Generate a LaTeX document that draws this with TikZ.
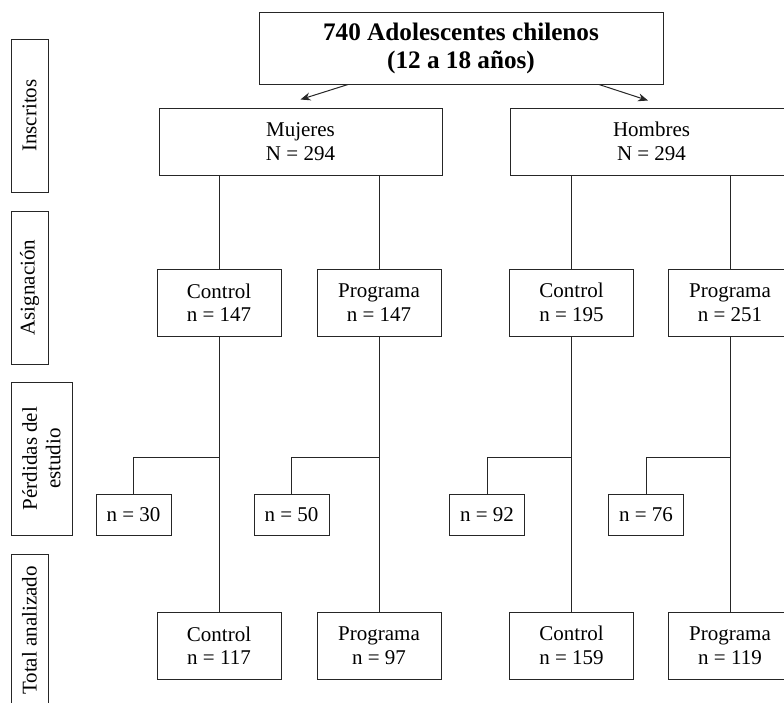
\documentclass[tikz,border=0pt]{standalone}
\usepackage{fontspec}
\setmainfont{Liberation Serif}
\usetikzlibrary{arrows.meta,calc}
\definecolor{LineClr}{gray}{0.15}

\tikzset{
  BoxLine/.style={draw=LineClr,line width=1pt},
  GroupBox/.style={BoxLine,inner sep=0pt,align=center,
    font=\fontsize{21}{23.5}\selectfont},
  StageTag/.style={GroupBox,rotate=90,minimum width=153pt},
  LossBox/.style={GroupBox,minimum width=75pt,minimum height=41pt},
  ArmBox/.style={GroupBox,minimum width=124pt,minimum height=67pt},
  Link/.style={draw=LineClr,line width=1pt},
  Flow/.style={Link,-{Stealth[length=10pt,width=8pt]}}
}

\begin{document}
\begin{tikzpicture}[x=1pt,y=1pt]
\useasboundingbox (0,0) rectangle (784,-702);
\clip (0,0) rectangle (784,-702);

% stages on the left
\node[StageTag,minimum height=37pt] (sInsc) at (29.5,-115.5) {Inscritos};
\node[StageTag,minimum height=37pt] (sAsig) at (29.5,-287.5) {Asignación};
\node[StageTag,minimum height=61pt] (sPerd) at (41.5,-458.5) {Pérdidas del\\estudio};
\node[StageTag,minimum height=37pt] (sTot) at (29.5,-630.5) {Total analizado};

% sample and sexes
\node[GroupBox,minimum width=404pt,minimum height=72pt,
  font=\fontsize{25.2}{28}\selectfont\bfseries] (total) at (461,-48)
  {740 Adolescentes chilenos\\(12 a 18 años)};
\node[GroupBox,minimum width=283pt,minimum height=67pt] (muj) at (300.5,-141.5) {Mujeres\\N = 294};
\node[GroupBox,minimum width=283pt,minimum height=67pt] (hom) at (651.5,-141.5) {Hombres\\N = 294};

\draw[Flow] ([xshift=-113pt]total.south) -- ([yshift=8pt]muj.north);
\draw[Flow] ([xshift=138pt]total.south) -- ([xshift=-3.5pt,yshift=7pt]hom.north);

% assignment
\node[ArmBox] (mCtrl) at (219,-302.5) {Control\\n = 147};
\node[ArmBox] (mProg) at (379,-302.5) {Programa\\n = 147};
\node[ArmBox] (hCtrl) at (571.5,-302.5) {Control\\n = 195};
\node[ArmBox] (hProg) at (730,-302.5) {Programa\\n = 251};

\draw[Link] (muj.south -| mCtrl) -- (mCtrl.north);
\draw[Link] (muj.south -| mProg) -- (mProg.north);
\draw[Link] (hom.south -| hCtrl) -- (hCtrl.north);
\draw[Link] (hom.south -| hProg) -- (hProg.north);

% losses
\coordinate (split) at (0,-457);
\node[LossBox] (mCtrlOut) at (133.5,-514.5) {n = 30};
\node[LossBox] (mProgOut) at (291.5,-514.5) {n = 50};
\node[LossBox] (hCtrlOut) at (487,-514.5) {n = 92};
\node[LossBox] (hProgOut) at (646,-514.5) {n = 76};

% analysed
\node[ArmBox] (mCtrlEnd) at (219,-645.5) {Control\\n = 117};
\node[ArmBox] (mProgEnd) at (379,-645.5) {Programa\\n = 97};
\node[ArmBox] (hCtrlEnd) at (571.5,-645.5) {Control\\n = 159};
\node[ArmBox] (hProgEnd) at (730,-645.5) {Programa\\n = 119};

\foreach \arm in {mCtrl,mProg,hCtrl,hProg}{
  \draw[Link] (\arm.south) -- (\arm End.north);
  \draw[Link] (\arm Out.north) |- (\arm.south |- split);
}
\end{tikzpicture}
\end{document}
